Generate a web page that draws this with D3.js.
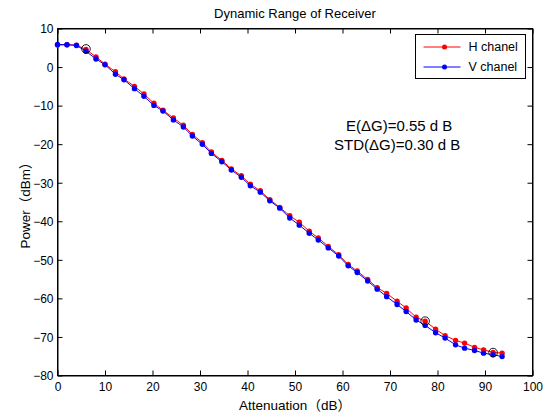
<!DOCTYPE html>
<html>
<head>
<meta charset="utf-8">
<script src="https://cdn.jsdelivr.net/npm/d3@7"></script>
<style>
  body { margin: 0; background: #fff; }
  svg { font-family: "Liberation Sans", Arial, "Noto Sans CJK SC", sans-serif; }
</style>
</head>
<body>
<svg id="chart" width="547" height="416"></svg>
<script>
// attenuation setting (dB)
const attenuation = [0, 2, 4, 6, 8.1, 10, 12.2, 14, 16.2, 18.2, 20.3, 22.2, 24.4, 26.5, 28.4, 30.5,
    32.4, 34.6, 36.6, 38.7, 40.6, 42.7, 44.7, 46.8, 48.9, 50.9, 53, 54.9, 57, 59.2, 61.2, 63.1,
    65.3, 67.3, 69.3, 71.5, 73.4, 75.5, 77.4, 79.6, 81.6, 83.8, 85.7, 87.8, 89.7, 91.7, 93.6];

const hChanel = [5.7, 5.8, 5.7, 4.55, 2.65, 0.75, -1.2, -3.1, -5.0, -7.0, -9.4, -11.2, -13.2, -15.1,
    -17.5, -19.6, -22.05, -24.2, -26.4, -28.2, -30.4, -32.1, -34.4, -36.4, -38.55, -40.25, -42.6,
    -44.3, -46.5, -48.7, -51.2, -52.9, -55.1, -57.2, -58.7, -60.75, -62.5, -64.9, -65.9, -68.0,
    -69.65, -70.9, -71.6, -72.7, -73.35, -74.0, -74.2];

const vChanel = [5.85, 5.8, 5.6, 4.1, 2.1, 0.6, -1.85, -3.3, -5.6, -7.6, -9.95, -11.4, -13.7, -15.55,
    -17.9, -20.05, -22.4, -24.55, -26.7, -28.6, -30.8, -32.45, -34.7, -36.6, -39.15, -41.0, -43.1,
    -44.85, -46.9, -49.0, -51.55, -53.3, -55.5, -57.6, -59.55, -61.6, -63.4, -65.6, -67.0, -68.9,
    -70.3, -72.05, -72.9, -73.5, -74.2, -74.6, -75.1];

// circled points
const markX = [6, 77.4, 91.7];
const markY = [4.7, -65.9, -74.05];

const xTicks = [0, 10, 20, 30, 40, 50, 60, 70, 80, 90, 100];
const yTicks = [10, 0, -10, -20, -30, -40, -50, -60, -70, -80];

const seriesNames = ["H chanel", "V chanel"];
const seriesColors = ["#ff0000", "#0000ff"];

const plotLeft = 57.5, plotRight = 532.5, plotTop = 28.5, plotBottom = 375.5;

const svg = d3.select("#chart");

const x = d3.scaleLinear().domain([0, 100]).range([plotLeft, plotRight]);
const y = d3.scaleLinear().domain([-80, 10]).range([plotBottom, plotTop]);

// box
svg.append("rect")
    .attr("x", plotLeft).attr("y", plotTop)
    .attr("width", plotRight - plotLeft).attr("height", plotBottom - plotTop)
    .attr("fill", "#fff")
    .attr("stroke", "#000")
    .attr("stroke-width", 1);

// ticks pointing inward, on all four sides
const tickLen = 5;
const xAxisB = svg.append("g").attr("transform", "translate(0," + plotBottom + ")")
    .call(d3.axisBottom(x).tickValues(xTicks).tickSizeInner(-tickLen).tickSizeOuter(0).tickPadding(7));
const xAxisT = svg.append("g").attr("transform", "translate(0," + plotTop + ")")
    .call(d3.axisTop(x).tickValues(xTicks).tickSizeInner(-tickLen).tickSizeOuter(0).tickFormat(""));
const yAxisL = svg.append("g").attr("transform", "translate(" + plotLeft + ",0)")
    .call(d3.axisLeft(y).tickValues(yTicks).tickSizeInner(-tickLen).tickSizeOuter(0).tickPadding(4));
const yAxisR = svg.append("g").attr("transform", "translate(" + plotRight + ",0)")
    .call(d3.axisRight(y).tickValues(yTicks).tickSizeInner(-tickLen).tickSizeOuter(0).tickFormat(""));

[xAxisB, xAxisT, yAxisL, yAxisR].forEach(a => {
    a.select(".domain").attr("stroke", "#000").attr("stroke-width", 1);
    a.selectAll(".tick line").attr("stroke", "#000");
    a.selectAll("text")
        .attr("fill", "#000")
        .style("font-size", "12px")
        .style("font-family", "'Liberation Sans', Arial, sans-serif");
});
yAxisL.selectAll("text").attr("dy", "0.36em");

// series: H first, V drawn on top
const line = d3.line()
    .x(d => x(d[0]))
    .y(d => y(d[1]));

[hChanel, vChanel].forEach((vals, i) => {
    const pts = attenuation.map((a, k) => [a, vals[k]]);
    const g = svg.append("g").attr("class", "series");
    g.append("path")
        .datum(pts)
        .attr("d", line)
        .attr("fill", "none")
        .attr("stroke", seriesColors[i])
        .attr("stroke-width", 1);
    g.selectAll("circle")
        .data(pts)
        .enter()
        .append("circle")
        .attr("cx", d => x(d[0]))
        .attr("cy", d => y(d[1]))
        .attr("r", 2.7)
        .attr("fill", seriesColors[i]);
});

// black circles around selected points
svg.append("g").selectAll("circle")
    .data(markX.map((m, k) => [m, markY[k]]))
    .enter()
    .append("circle")
    .attr("cx", d => x(d[0]))
    .attr("cy", d => y(d[1]))
    .attr("r", 4.3)
    .attr("fill", "none")
    .attr("stroke", "#000")
    .attr("stroke-width", 0.9);

// legend
const legend = svg.append("g").attr("transform", "translate(415.5,34.5)");
legend.append("rect")
    .attr("width", 110).attr("height", 44)
    .attr("fill", "#fff").attr("stroke", "#000").attr("stroke-width", 1);
seriesNames.forEach((name, i) => {
    const ly = 12.5 + i * 20;
    legend.append("line")
        .attr("x1", 8).attr("x2", 45)
        .attr("y1", ly).attr("y2", ly)
        .attr("stroke", seriesColors[i]).attr("stroke-width", 1);
    legend.append("circle")
        .attr("cx", 29).attr("cy", ly).attr("r", 2.5)
        .attr("fill", seriesColors[i]);
    legend.append("text")
        .attr("x", 53).attr("y", ly + 4.3)
        .style("font-size", "12.5px")
        .text(name);
});

// annotation
svg.append("text")
    .attr("x", 346).attr("y", 131)
    .style("font-size", "15px")
    .text("E(ΔG)=0.55 d B");
svg.append("text")
    .attr("x", 334).attr("y", 150)
    .style("font-size", "15px")
    .text("STD(ΔG)=0.30 d B");

// title and axis labels
svg.append("text")
    .attr("x", (plotLeft + plotRight) / 2).attr("y", 18)
    .attr("text-anchor", "middle")
    .style("font-size", "13px")
    .text("Dynamic Range of Receiver");

svg.append("text")
    .attr("x", (plotLeft + plotRight) / 2).attr("y", 410)
    .attr("text-anchor", "middle")
    .style("font-size", "13.5px")
    .text("Attenuation（dB）");

svg.append("text")
    .attr("transform", "translate(30," + ((plotTop + plotBottom) / 2) + ") rotate(-90)")
    .attr("text-anchor", "middle")
    .style("font-size", "13.5px")
    .text("Power（dBm）");
</script>
</body>
</html>
